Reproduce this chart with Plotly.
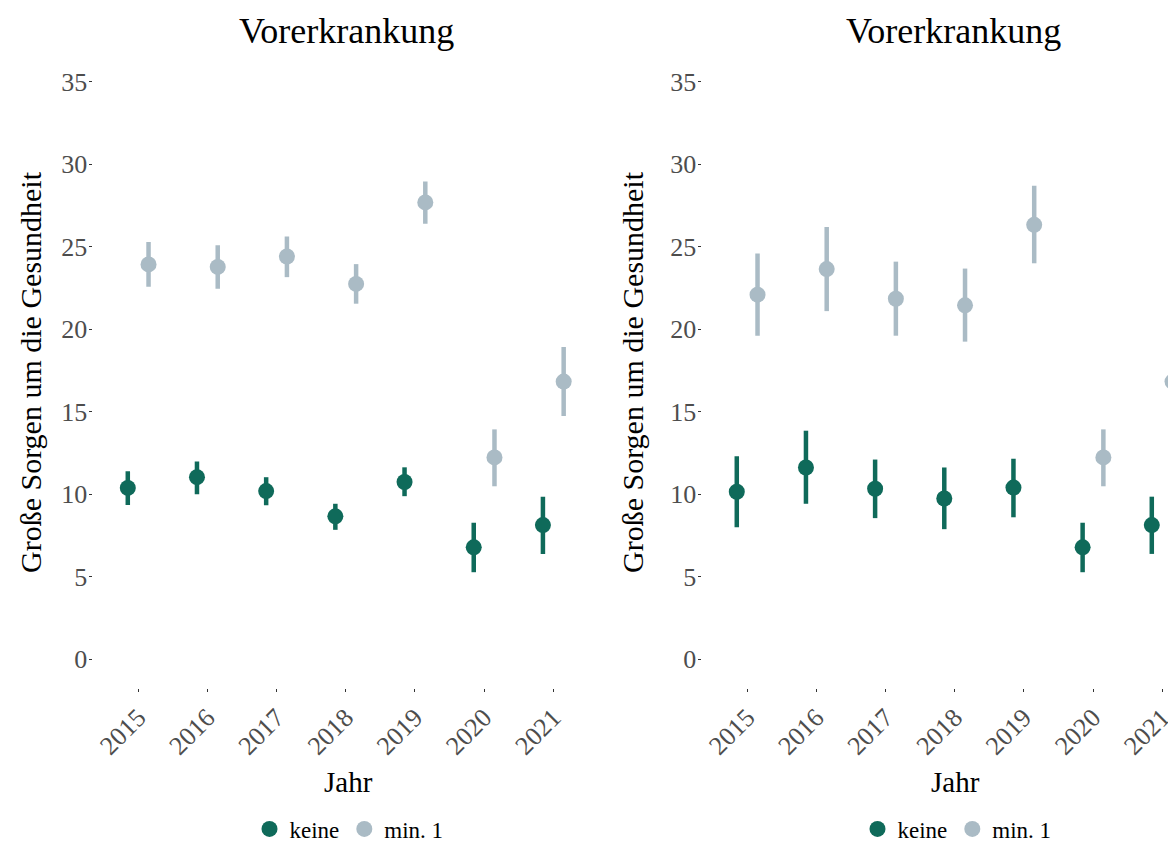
import plotly.graph_objects as go

years = ["2015", "2016", "2017", "2018", "2019", "2020", "2021"]
groups = ["keine", "min. 1"]
colors = {"keine": "#0F6A5A", "min. 1": "#AABBC5"}

# Left panel
left_keine_mean = [10.38, 11.03, 10.19, 8.66, 10.74, 6.78, 8.13]
left_keine_lo = [9.35, 10.00, 9.33, 7.84, 9.88, 5.27, 6.38]
left_keine_hi = [11.39, 11.99, 11.03, 9.42, 11.63, 8.27, 9.85]
left_min1_mean = [23.93, 23.78, 24.41, 22.75, 27.69, 12.23, 16.83]
left_min1_lo = [22.58, 22.46, 23.16, 21.55, 26.40, 10.48, 14.74]
left_min1_hi = [25.29, 25.10, 25.63, 23.95, 28.96, 13.93, 18.92]

# Right panel
right_keine_mean = [10.15, 11.62, 10.33, 9.74, 10.40, 6.78, 8.13]
right_keine_lo = [8.00, 9.42, 8.55, 7.88, 8.60, 5.27, 6.38]
right_keine_hi = [12.30, 13.85, 12.10, 11.62, 12.15, 8.27, 9.85]
right_min1_mean = [22.10, 23.65, 21.85, 21.45, 26.33, 12.23, 16.83]
right_min1_lo = [19.61, 21.10, 19.61, 19.25, 24.00, 10.48, 14.74]
right_min1_hi = [24.60, 26.20, 24.10, 23.68, 28.70, 13.93, 18.92]

panel_title = "Vorerkrankung"
x_title = "Jahr"
y_title = "Große Sorgen um die Gesundheit"
dodge = {"keine": -0.15, "min. 1": 0.15}

FONT = "Liberation Serif, Times New Roman, serif"
# page body has an 8px margin: the figure starts at (8, 8) in the window
OFF = 8
W, H = 1176 - OFF, 844

fig = go.Figure()

panels = [
    ("x", "y", "legend", {"keine": (left_keine_mean, left_keine_lo, left_keine_hi),
                          "min. 1": (left_min1_mean, left_min1_lo, left_min1_hi)}),
    ("x2", "y2", "legend2", {"keine": (right_keine_mean, right_keine_lo, right_keine_hi),
                             "min. 1": (right_min1_mean, right_min1_lo, right_min1_hi)}),
]

for xa, ya, lg, data in panels:
    for g in groups:
        m, lo, hi = data[g]
        xs = [i + 1 + dodge[g] for i in range(len(years))]
        fig.add_trace(go.Scatter(
            x=xs, y=m, mode="markers", name=g, xaxis=xa, yaxis=ya, legend=lg,
            marker=dict(color=colors[g], size=16, line=dict(width=0)),
            error_y=dict(type="data", symmetric=False,
                         array=[h - v for h, v in zip(hi, m)],
                         arrayminus=[v - l for v, l in zip(m, lo)],
                         color=colors[g], thickness=4.5, width=0),
        ))

def px_x(p):
    return min(1.0, (p - OFF) / W)

def px_y(p):
    return 1 - (p - OFF) / H

ydom = [px_y(688), px_y(53)]
common_y = dict(range=[-1.75, 36.75], tickvals=[0, 5, 10, 15, 20, 25, 30, 35],
                showgrid=False, zeroline=False, showline=False, automargin=False,
                ticks="outside", ticklen=3, tickwidth=1, tickcolor="#333333",
                ticklabelstandoff=-4,
                tickfont=dict(family=FONT, size=26, color="#4D4D4D"),
                domain=ydom, fixedrange=True)
common_x = dict(tickvals=list(range(1, 8)), ticktext=years, tickangle=-45,
                showgrid=False, zeroline=False, showline=False, automargin=False,
                ticks="outside", ticklen=3, tickwidth=1, tickcolor="#333333",
                tickfont=dict(family=FONT, size=26, color="#4D4D4D"))

fig.update_layout(
    width=W, height=H,
    margin=dict(l=0, r=0, t=0, b=0, autoexpand=False),
    paper_bgcolor="white", plot_bgcolor="white",
    font=dict(family=FONT, color="black"),
    xaxis=dict(common_x, domain=[px_x(92.5), px_x(595.5)], range=[0.34, 7.61], anchor="y"),
    yaxis=dict(common_y, anchor="x"),
    xaxis2=dict(common_x, domain=[px_x(701.5), 1.0], range=[0.34, 7.2], anchor="y2"),
    yaxis2=dict(common_y, anchor="x2"),
    legend=dict(orientation="h", x=px_x(349), xanchor="center", y=px_y(829), yanchor="middle",
                font=dict(family=FONT, size=23, color="black"), itemwidth=30,
                bgcolor="rgba(0,0,0,0)"),
    legend2=dict(orientation="h", x=px_x(957), xanchor="center", y=px_y(829), yanchor="middle",
                 font=dict(family=FONT, size=23, color="black"), itemwidth=30,
                 bgcolor="rgba(0,0,0,0)"),
    showlegend=True,
)

annotations = []
for cx, ytx in [(346.5, 30), (953, 632)]:
    annotations.append(dict(text=panel_title, x=px_x(cx), y=px_y(31), xref="paper", yref="paper",
                            showarrow=False, xanchor="center", yanchor="middle",
                            font=dict(family=FONT, size=36, color="black")))
    annotations.append(dict(text=x_title, x=px_x(cx + 2), y=px_y(782), xref="paper", yref="paper",
                            showarrow=False, xanchor="center", yanchor="middle",
                            font=dict(family=FONT, size=29, color="black")))
    annotations.append(dict(text=y_title, x=px_x(ytx), y=px_y(372), xref="paper", yref="paper",
                            showarrow=False, xanchor="center", yanchor="middle", textangle=-90,
                            font=dict(family=FONT, size=30, color="black")))
fig.update_layout(annotations=annotations)

fig.write_html("out.html")
